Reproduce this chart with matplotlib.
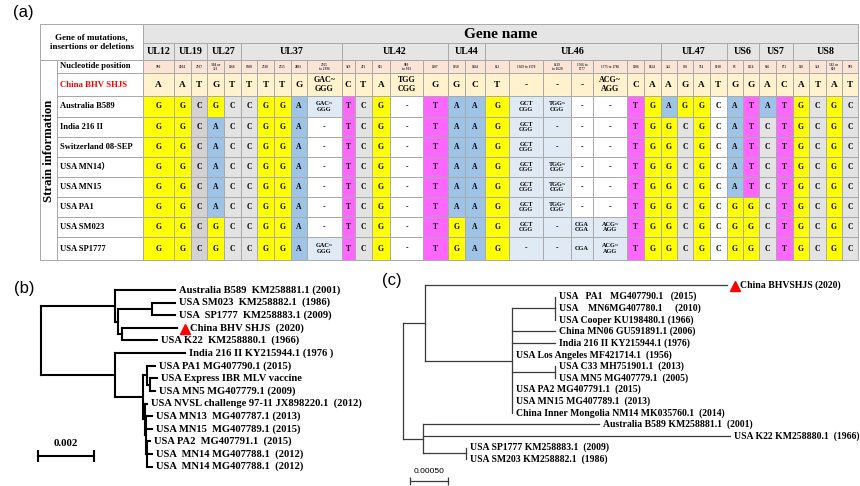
import matplotlib
matplotlib.use("Agg")
import matplotlib.pyplot as plt
from matplotlib.patches import Rectangle
from matplotlib.transforms import offset_copy

plt.rcParams['font.family'] = ['Liberation Serif', 'Noto Sans CJK SC', 'DejaVu Serif']
plt.rcParams['font.weight'] = 'bold'

# ---------------- (a) table data ----------------
genes = ["UL12", "UL19", "UL27", "UL37", "UL42", "UL44", "UL46", "UL47", "US6", "US7", "US8"]
gene_ncols = [1, 2, 2, 5, 5, 2, 7, 4, 2, 2, 4]
positions = ["930", "2004", "2937", "304 or\n323", "1166", "1300", "2318", "2555", "2883",
             "2965\nto 2996", "369", "471", "615", "900\nto 903", "1107", "1458", "1484",
             "822", "1369 to 1370", "1619\nto 1620", "1766 to\n1777", "1775 to 1786", "1106",
             "1824", "345", "558", "714", "1010", "63", "1114", "566", "871", "118", "348",
             "582 or\n603", "996"]

ref_strain = "China BHV SHJS"
ref_bases = ["A", "A", "T", "G", "T", "T", "T", "T", "G", "GAC~\nGGG", "C", "T", "A", "TGG\nCGG",
             "G", "G", "C", "T", "-", "-", "-", "ACG~\nAGG", "C", "A", "A", "G", "A", "T",
             "G", "G", "A", "C", "A", "T", "A", "T"]

strains = ["Australia B589", "India 216 II", "Switzerland 08-SEP", "USA MN14\uff09",
           "USA MN15", "USA PA1", "USA SM023", "USA SP1777"]
bases_australia = ["G", "G", "C", "G", "C", "C", "G", "G", "A", "GAC~\nGGG", "T", "C", "G", "-",
                   "T", "A", "A", "G", "GCT\nCGG", "TGG~\nCGG", "-", "-", "T", "G", "A", "G",
                   "G", "C", "A", "T", "A", "T", "G", "C", "G", "C"]
bases_india = ["G", "G", "C", "A", "C", "C", "G", "G", "A", "-", "T", "C", "G", "-", "T", "A",
               "A", "G", "GCT\nCGG", "-", "-", "-", "T", "G", "G", "C", "G", "C", "A", "T",
               "C", "T", "G", "C", "G", "C"]
bases_switzerland = list(bases_india)
bases_mn14 = ["G", "G", "C", "A", "C", "C", "G", "G", "A", "-", "T", "C", "G", "-", "T", "A",
              "A", "G", "GCT\nCGG", "TGG~\nCGG", "-", "-", "T", "G", "G", "C", "G", "C", "A",
              "T", "C", "T", "G", "C", "G", "C"]
bases_mn15 = list(bases_mn14)
bases_pa1 = ["G", "G", "C", "A", "C", "C", "G", "G", "A", "-", "T", "C", "G", "-", "T", "A",
             "A", "G", "GCT\nCGG", "TGG~\nCGG", "-", "-", "T", "G", "G", "C", "G", "C", "G",
             "G", "C", "T", "G", "C", "G", "C"]
bases_sm023 = ["G", "G", "C", "G", "C", "C", "G", "G", "A", "-", "T", "C", "G", "-", "T", "G",
               "A", "G", "GCT\nCGG", "-", "CGA\nCGA", "ACG~\nAGG", "T", "G", "G", "C", "G",
               "C", "G", "G", "C", "T", "G", "C", "G", "C"]
bases_sp1777 = ["G", "G", "C", "G", "C", "C", "G", "G", "A", "GAC~\nGGG", "T", "C", "G", "-",
                "T", "G", "A", "G", "-", "-", "CGA", "ACG~\nAGG", "T", "G", "G", "C", "G", "C",
                "G", "G", "C", "T", "G", "C", "G", "C"]
strain_bases = [bases_australia, bases_india, bases_switzerland, bases_mn14, bases_mn15,
                bases_pa1, bases_sm023, bases_sp1777]

# ---------------- (b) tree data ----------------
b_node_parent = [-1, 0, 1, 2, 2, 0, 5, 6, 7, 6, 9, 10]
b_node_length = [0, 0.00267, 0.00012, 0.0012, 0.00012, 0.00267, 0.00101, 0.00013, 0.00012,
                 0.00007, 0.00004, 0.00004]
b_leaves = ["Australia B589  KM258881.1 (2001)", "USA SM023  KM258882.1  (1986)",
            "USA  SP1777  KM258883.1 (2009)", "China BHV SHJS  (2020)",
            "USA K22  KM258880.1  (1966)", "India 216 II KY215944.1 (1976 )",
            "USA PA1 MG407790.1 (2015)", "USA Express IBR MLV vaccine",
            "USA MN5 MG407779.1 (2009)", "USA NVSL challenge 97-11 JX898220.1  (2012)",
            "USA MN13  MG407787.1 (2013)", "USA MN15  MG407789.1 (2015)",
            "USA PA2  MG407791.1  (2015)", "USA  MN14 MG407788.1  (2012)",
            "USA  MN14 MG407788.1  (2012)"]
b_leaf_parent = [1, 3, 3, 4, 4, 5, 7, 8, 8, 9, 10, 10, 11, 11, 11]
b_leaf_length = [0.00215, 0.00084, 0.00084, 0.00197, 0.00126, 0.00251, 0.0003, 0.00024,
                 0.00018, 0.00006, 0.0002, 0.0002, 0.00008, 0.00017, 0.00017]
b_marked = "China BHV SHJS  (2020)"

# ---------------- (c) tree data ----------------
c_node_parent = [-1, 0, 1, 2, 2, 0, 5]
c_node_length = [0, 0.000296, 0.00116, 0.00056, 0.00056, 0.00027, 0.00057]
c_leaves = ["China BHVSHJS (2020)", "USA   PA1   MG407790.1   (2015)",
            "USA    MN6MG407780.1     (2010)", "USA Cooper KU198480.1 (1966)",
            "China MN06 GU591891.1 (2006)", "India 216 II KY215944.1 (1976)",
            "USA Los Angeles MF421714.1  (1956)", "USA C33 MH751901.1  (2013)",
            "USA MN5 MG407779.1  (2005)", "USA PA2 MG407791.1  (2015)",
            "USA MN15 MG407789.1  (2013)", "China Inner Mongolia NM14 MK035760.1  (2014)",
            "Australia B589 KM258881.1  (2001)", "USA K22 KM258880.1  (1966)",
            "USA SP1777 KM258883.1  (2009)", "USA SM203 KM258882.1  (1986)"]
c_leaf_parent = [1, 3, 3, 3, 2, 2, 2, 4, 4, 2, 2, 2, 5, 5, 6, 6]
c_leaf_length = [0.004, 0, 0, 0, 0.00057, 0.00057, 0, 0, 0, 0, 0, 0, 0.00234, 0.00407, 0, 0]
c_marked = "China BHVSHJS (2020)"

# ---------------- figure ----------------
W, H = 860, 486
fig = plt.figure(figsize=(W / 100, H / 100), dpi=100)
ax = fig.add_axes([0, 0, 1, 1])
ax.set_xlim(0, W)
ax.set_ylim(H, 0)
ax.axis('off')

col_edges = [143.3, 174, 190.7, 207.3, 224, 240.7, 257.3, 274, 290.7, 306.7, 341.7, 355,
             371.7, 390, 423.3, 447.7, 465, 485, 509.3, 543.3, 570.7, 593.3, 627.3, 644,
             660.7, 676.7, 693.3, 710, 726.7, 742.7, 759.3, 776, 792.7, 809.3, 826, 841.7,
             858.3]
row_edges = [24, 43.3, 59.7, 73.3, 96, 116.7, 137, 157, 177, 197, 217, 237, 260]
x_out, x_strain, x_lab, x_end = 40, 57, col_edges[0], col_edges[-1]
grid = '#a9a9a9'

base_colors = {"G": "#ffff00", "T": "#ff66ff", "A": "#9dc3e6", "C": "#e4e3e3"}


def cell(x0, x1, y0, y1, fc):
    ax.add_patch(Rectangle((x0, y0), x1 - x0, y1 - y0, facecolor=fc, edgecolor=grid, lw=0.7))


# header
cell(x_out, x_lab, row_edges[0], row_edges[2], 'white')
ax.text((x_out + x_lab) / 2, (row_edges[0] + row_edges[2]) / 2,
        "Gene of mutations,\ninsertions or deletions", ha='center', va='center',
        fontsize=6.5, linespacing=1.25)
cell(x_lab, x_end, row_edges[0], row_edges[1], '#e5e5e5')
ax.text((x_lab + x_end) / 2, (row_edges[0] + row_edges[1]) / 2 + 1, "Gene name",
        ha='center', va='center', fontsize=11)
start = 0
for g, n in zip(genes, gene_ncols):
    x0, x1 = col_edges[start], col_edges[start + n]
    cell(x0, x1, row_edges[1], row_edges[2], '#e5e5e5')
    ax.text((x0 + x1) / 2, (row_edges[1] + row_edges[2]) / 2 + 0.5, g, ha='center',
            va='center', fontsize=7.2)
    start += n

# nucleotide position row
cell(x_strain, x_lab, row_edges[2], row_edges[3], 'white')
ax.text(x_strain + 2.5, (row_edges[2] + row_edges[3]) / 2, "Nucleotide position",
        ha='left', va='center', fontsize=6.2)
for i, p in enumerate(positions):
    cell(col_edges[i], col_edges[i + 1], row_edges[2], row_edges[3], '#fbe3d5')
    ax.text((col_edges[i] + col_edges[i + 1]) / 2, (row_edges[2] + row_edges[3]) / 2, p,
            ha='center', va='center', fontsize=2.4, linespacing=1.0, color='#333333')

# strain information column
cell(x_out, x_strain, row_edges[2], row_edges[-1], 'white')
ax.text((x_out + x_strain) / 2, 151, "Strain information", rotation=90, ha='center',
        va='center', fontsize=9.2)

# reference row
y0, y1 = row_edges[3], row_edges[4]
cell(x_strain, x_lab, y0, y1, 'white')
ax.text(x_strain + 2.5, (y0 + y1) / 2, ref_strain, color='#ff0000', ha='left', va='center',
        fontsize=6.3)
for i, b in enumerate(ref_bases):
    cell(col_edges[i], col_edges[i + 1], y0, y1, '#fff2cc')
    fs = 6.7 if len(b) == 1 else 5.8
    ax.text((col_edges[i] + col_edges[i + 1]) / 2, (y0 + y1) / 2, b, ha='center',
            va='center', fontsize=fs, linespacing=1.1)

# strain rows
for r, (name, bases) in enumerate(zip(strains, strain_bases)):
    y0, y1 = row_edges[4 + r], row_edges[5 + r]
    cell(x_strain, x_lab, y0, y1, 'white')
    ax.text(x_strain + 2.5, (y0 + y1) / 2, name, ha='left', va='center', fontsize=6.1)
    for i, b in enumerate(bases):
        if len(b) == 1 and b != "-":
            fc = base_colors[b]
            if b == "C" and i == 2:
                fc = '#d3d1d1'
            if b == "C" and i == 27:
                fc = 'white'
        elif b == "-" and i not in (18, 19):
            fc = 'white'
        else:
            fc = '#dfeaf5'
        cell(col_edges[i], col_edges[i + 1], y0, y1, fc)
        fs = 5.5 if len(b) == 1 else 4.5
        ax.text((col_edges[i] + col_edges[i + 1]) / 2, (y0 + y1) / 2, b, ha='center',
                va='center', fontsize=fs, linespacing=1.15)

# panel letters
sans = ['Liberation Sans', 'DejaVu Sans']
ax.text(23, 13, "(a)", ha='center', va='center', fontsize=12, family=sans, weight='normal')
ax.text(24, 288, "(b)", ha='center', va='center', fontsize=12, family=sans, weight='normal')
ax.text(392, 280, "(c)", ha='center', va='center', fontsize=12, family=sans, weight='normal')


# ---------------- trees ----------------
def layout(node_parent, node_length, leaf_parent, leaf_length):
    nx = [0.0] * len(node_parent)
    for i, p in enumerate(node_parent):
        if p >= 0:
            nx[i] = nx[p] + node_length[i]
    lx = [nx[p] + l for p, l in zip(leaf_parent, leaf_length)]
    ly = list(range(len(leaf_parent)))
    kids = [[] for _ in node_parent]
    for j, p in enumerate(leaf_parent):
        kids[p].append(ly[j])
    ny = [0.0] * len(node_parent)
    span = [None] * len(node_parent)
    for i in range(len(node_parent) - 1, -1, -1):
        ys = kids[i]
        span[i] = (min(ys), max(ys))
        ny[i] = (min(ys) + max(ys)) / 2
        if node_parent[i] >= 0:
            kids[node_parent[i]].append(ny[i])
    return nx, ny, span, lx, ly


def draw_tree(axt, node_parent, node_length, leaves, leaf_parent, leaf_length, marked,
              color, lw, fs, pad, tri_size):
    nx, ny, span, lx, ly = layout(node_parent, node_length, leaf_parent, leaf_length)
    for i, p in enumerate(node_parent):
        axt.plot([nx[i], nx[i]], span[i], color=color, lw=lw, solid_capstyle='projecting')
        if p >= 0:
            axt.plot([nx[p], nx[i]], [ny[i], ny[i]], color=color, lw=lw,
                     solid_capstyle='projecting')
    for j, p in enumerate(leaf_parent):
        if leaf_length[j] > 0:
            axt.plot([nx[p], lx[j]], [ly[j], ly[j]], color=color, lw=lw,
                     solid_capstyle='projecting')
        off = pad
        if leaves[j] == marked:
            tri = offset_copy(axt.transData, fig=fig, x=pad + 4, y=-1, units='dots')
            axt.plot(lx[j], ly[j], marker='^', color='#ff0000', ms=tri_size, transform=tri,
                     clip_on=False)
            off = pad + 9
        tr = offset_copy(axt.transData, fig=fig, x=off, y=0, units='dots')
        axt.text(lx[j], ly[j], leaves[j], transform=tr, ha='left', va='center', fontsize=fs,
                 clip_on=False)
    return nx, ny


def tree_axes(px0, px1, py0, py1, root_px, leaf0_py, step_py, scale):
    axt = fig.add_axes([px0 / W, 1 - py1 / H, (px1 - px0) / W, (py1 - py0) / H])
    axt.set_xlim((px0 - root_px) / scale, (px1 - root_px) / scale)
    axt.set_ylim((py1 - leaf0_py) / step_py, (py0 - leaf0_py) / step_py)
    axt.axis('off')
    axt.patch.set_alpha(0)
    return axt


# (b)
b_scale = 27850.0
ax_b = tree_axes(0, 430, 270, 486, 40.7, 290, 12.62, b_scale)
draw_tree(ax_b, b_node_parent, b_node_length, b_leaves, b_leaf_parent, b_leaf_length,
          b_marked, 'black', 1.5, 7.6, 4, 7)
bar_x0 = (38.3 - 40.7) / b_scale
bar_y = (455.7 - 290) / 12.62
ax_b.plot([bar_x0, bar_x0 + 0.002], [bar_y, bar_y], color='black', lw=1.5)
ax_b.plot([bar_x0, bar_x0 + 0.002], [bar_y, bar_y], ls='none', marker='|', ms=9,
          mew=1.5, color='black')
ax_b.text(bar_x0 + 0.001, bar_y - 0.6, "0.002", ha='center', va='bottom', fontsize=7.8)

# (c)
c_scale = 75400.0
ax_c = tree_axes(380, 860, 270, 486, 402.7, 285, 11.62, c_scale)
draw_tree(ax_c, c_node_parent, c_node_length, c_leaves, c_leaf_parent, c_leaf_length,
          c_marked, '#3a3a3a', 0.9, 7.0, 4, 7)
bar_x0 = (410 - 402.7) / c_scale
bar_y = (480.7 - 285) / 11.62
ax_c.plot([bar_x0, bar_x0 + 0.0005], [bar_y, bar_y], color='#3a3a3a', lw=0.9)
ax_c.plot([bar_x0, bar_x0 + 0.0005], [bar_y, bar_y], ls='none', marker='|', ms=6,
          mew=0.9, color='#3a3a3a')
ax_c.text(bar_x0 + 0.00025, bar_y - 0.45, "0.00050", ha='center', va='bottom', fontsize=6,
          family=sans, weight='normal')

fig.savefig("out.png", dpi=100)
